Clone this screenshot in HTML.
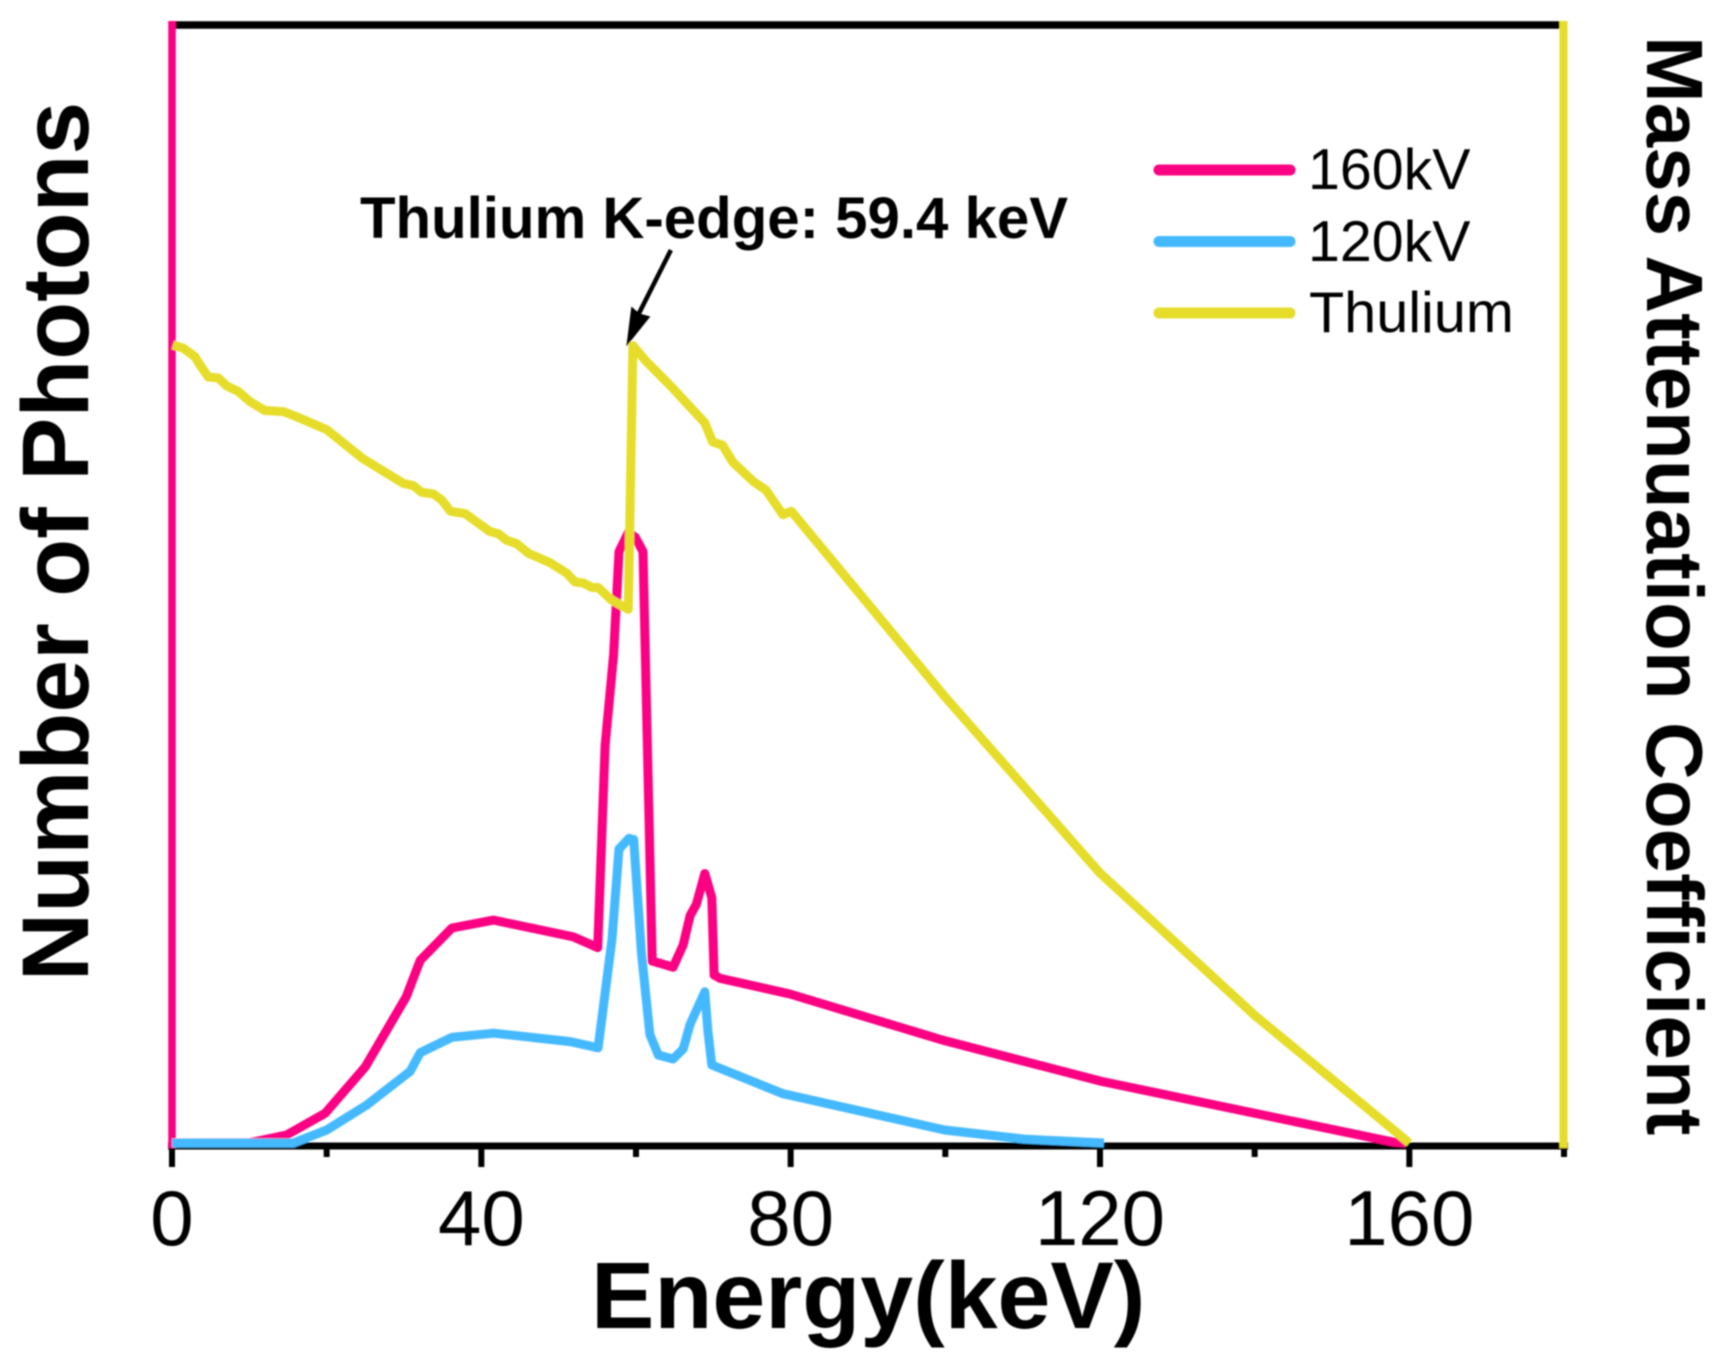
<!DOCTYPE html>
<html lang="en">
<head>
<meta charset="utf-8">
<title>Thulium K-edge spectrum chart</title>
<style>
  html, body { margin: 0; padding: 0; background: #ffffff; }
  svg { display: block; }
  text { font-family: "Liberation Sans", Arial, sans-serif; fill: #000; }
  .bold { font-weight: 700; }
</style>
</head>
<body>
<svg id="chart" xmlns="http://www.w3.org/2000/svg" width="1721" height="1363" viewBox="0 0 1721 1363">
  <defs>
    <filter id="soft" x="-2%" y="-2%" width="104%" height="104%"><feGaussianBlur stdDeviation="0.7"/></filter>
  </defs>
  <rect x="0" y="0" width="1721" height="1363" fill="#ffffff"/>
  <g id="root" filter="url(#soft)">
    <g id="axes"></g>
    <g id="marks"></g>
    <g id="labels"></g>

    <text class="bold" font-size="94.8" text-anchor="middle" transform="translate(88,541.5) rotate(-90)">Number of Photons</text>
    <text class="bold" font-size="80" transform="translate(1647,36) rotate(90)">Mass Attenuation Coefficient</text>
    <text class="bold" font-size="95" x="591" y="1328">Energy(keV)</text>
    <text class="bold" font-size="58.2" x="360" y="238">Thulium K-edge: 59.4 keV</text>

    <g>
      <line x1="1159" x2="1290" y1="170" y2="170" stroke="#FB0082" stroke-width="11" stroke-linecap="round"/>
      <text font-size="57.3" x="1308" y="189">160kV</text>
      <line x1="1159" x2="1290" y1="241.5" y2="241.5" stroke="#44B9FF" stroke-width="11" stroke-linecap="round"/>
      <text font-size="57.3" x="1308" y="261">120kV</text>
      <line x1="1159" x2="1290" y1="313" y2="313" stroke="#E6DD2A" stroke-width="11" stroke-linecap="round"/>
      <text font-size="57.6" x="1309" y="332">Thulium</text>
    </g>
  </g>
</svg>
<script>
// --- chart data ---
const xTickValues = [0, 20, 40, 60, 80, 100, 120, 140, 160, 180];
const xTickLabels = ["0", "", "40", "", "80", "", "120", "", "160", ""];

const energy160 = [0, 10.1, 14.8, 19.8, 25, 30.3, 32.1, 36.2, 41.6, 51.9, 55.05, 56, 57.1, 57.8, 59, 59.9, 60.9, 62.1, 64.8, 66.1, 67, 67.8, 68.9, 69.8, 70.1, 70.9, 79.9, 99.6, 120.2, 157.8, 159.5];
const photons160 = [0, 0.03, 0.71, 2.65, 6.8, 13.07, 16.3, 19.2, 19.9, 18.4, 17.45, 35.5, 43.6, 52.8, 54.5, 54.1, 52.8, 16.25, 15.7, 17.7, 20.3, 21.3, 24.05, 21.9, 15, 14.7, 13.3, 9.2, 5.5, 0.1, 0];

const energy120 = [0, 15.7, 20, 25.2, 30.8, 32.1, 36.2, 41.6, 51.5, 55.1, 56.9, 57.8, 59.1, 59.7, 60.7, 61.8, 62.9, 64.8, 66.1, 67, 68.9, 69.3, 69.8, 79, 99.9, 110.2, 120.5];
const photons120 = [0, 0, 1.16, 3.4, 6.4, 8.06, 9.44, 9.8, 9.05, 8.5, 18.2, 26.25, 27.2, 27.1, 17, 9.67, 7.85, 7.5, 8.4, 10.6, 13.5, 10, 6.96, 4.4, 1.16, 0.35, 0];

const energyTm = [0.1, 1.46, 2.97, 3.62, 4.69, 5.99, 7.07, 8.57, 10.08, 12, 14.4, 16.1, 20, 24.7, 29.9, 31.2, 32.3, 33.8, 34.9, 36, 37.9, 41.1, 42.2, 43.3, 44.6, 46.1, 48.9, 51, 52.1, 53.2, 54.3, 55.1, 56.8, 59, 59.6, 61.3, 64.6, 68.9, 69.9, 71.2, 72.5, 75.2, 76.8, 79, 80.1, 100, 120, 140, 160];
const attenuationTm = [71.25, 70.96, 70.2, 69.46, 68.4, 68.3, 67.6, 67.1, 66.2, 65.4, 65.3, 64.85, 63.7, 61.1, 58.9, 58.7, 58.1, 57.95, 57.4, 56.4, 56.2, 54.6, 54.4, 53.8, 53.5, 52.65, 51.8, 50.9, 50.1, 50, 49.6, 49.6, 48.5, 47.65, 71.2, 69.8, 67.5, 64.3, 62.6, 62.3, 60.8, 59.05, 58.3, 56.1, 56.4, 39.8, 24.1, 11.4, 0];

const kEdgeEnergy = 59.4;
const kEdgeValue = 71.2;

// --- axis functions ---
const X_LEFT = 172, X_RIGHT = 1564, X_DOMAIN = 180;
const Y_ZERO = 1143, Y_TOP = 23, Y_DOMAIN = 100;
function xScale(e) { return X_LEFT + (e / X_DOMAIN) * (X_RIGHT - X_LEFT); }
function yScale(v) { return Y_ZERO - (v / Y_DOMAIN) * (Y_ZERO - Y_TOP); }

const NS = 'http://www.w3.org/2000/svg';
const axes = document.getElementById('axes');
const marks = document.getElementById('marks');
const labels = document.getElementById('labels');

function make(tag, attrs, parent) {
  const el = document.createElementNS(NS, tag);
  for (const k in attrs) el.setAttribute(k, attrs[k]);
  parent.appendChild(el);
  return el;
}

// frame
const topAxis = make('line', { x1: 172, x2: 1560, y1: 25, y2: 25, stroke: '#000', 'stroke-width': 7.5 }, axes);



const bottomAxis = make('line', { x1: 168, x2: 1568, y1: 1146, y2: 1146, stroke: '#000', 'stroke-width': 7 }, axes);



const leftAxis = make('line', { x1: 172, x2: 172, y1: 21, y2: 1148, stroke: '#FB0082', 'stroke-width': 7.5 }, axes);



const rightAxis = make('line', { x1: 1563.5, x2: 1563.5, y1: 21, y2: 1148, stroke: '#E6DD2A', 'stroke-width': 8 }, axes);



// ticks and tick labels
xTickValues.forEach(function (value, i) {
  const major = xTickLabels[i] !== '';
  const x = xScale(value);
  const tick = make('line', { x1: x, x2: x, y1: 1149, y2: major ? 1167 : 1157, stroke: '#000', 'stroke-width': 6 }, axes);
  
  
  if (major) {
    const label = make('text', { x: x, y: 1245, 'font-size': 78, 'text-anchor': 'middle' }, labels);
    
    
    label.textContent = xTickLabels[i];
  }
});

// series
function pathFor(xs, ys) {
  return xs.map(function (e, i) {
    return (i ? 'L' : 'M') + xScale(e).toFixed(1) + ' ' + yScale(ys[i]).toFixed(1);
  }).join(' ');
}
function seriesAttrs(d, color) {
  return { d: d, fill: 'none', stroke: color, 'stroke-width': 9, 'stroke-linejoin': 'round', 'stroke-linecap': 'butt' };
}

const line160 = make('path', seriesAttrs(pathFor(energy160, photons160), '#FB0082'), marks);



const line120 = make('path', seriesAttrs(pathFor(energy120, photons120), '#44B9FF'), marks);



const lineTm = make('path', seriesAttrs(pathFor(energyTm, attenuationTm), '#E6DD2A'), marks);



// k-edge arrow, anchored to the k-edge point
const tipX = xScale(kEdgeEnergy) - 5;
const tipY = yScale(kEdgeValue) + 1;
const arrowShaft = make('line', { x1: tipX + 44.5, y1: tipY - 96.5, x2: tipX + 12, y2: tipY - 32, stroke: '#000', 'stroke-width': 4.5 }, marks);



const arrowHead = make('path', { d: 'M' + tipX + ' ' + tipY + ' L' + (tipX + 5) + ' ' + (tipY - 40) + ' L' + (tipX + 13) + ' ' + (tipY - 33) + ' L' + (tipX + 24) + ' ' + (tipY - 30) + ' Z', fill: '#000' }, marks);


</script>
</body>
</html>
